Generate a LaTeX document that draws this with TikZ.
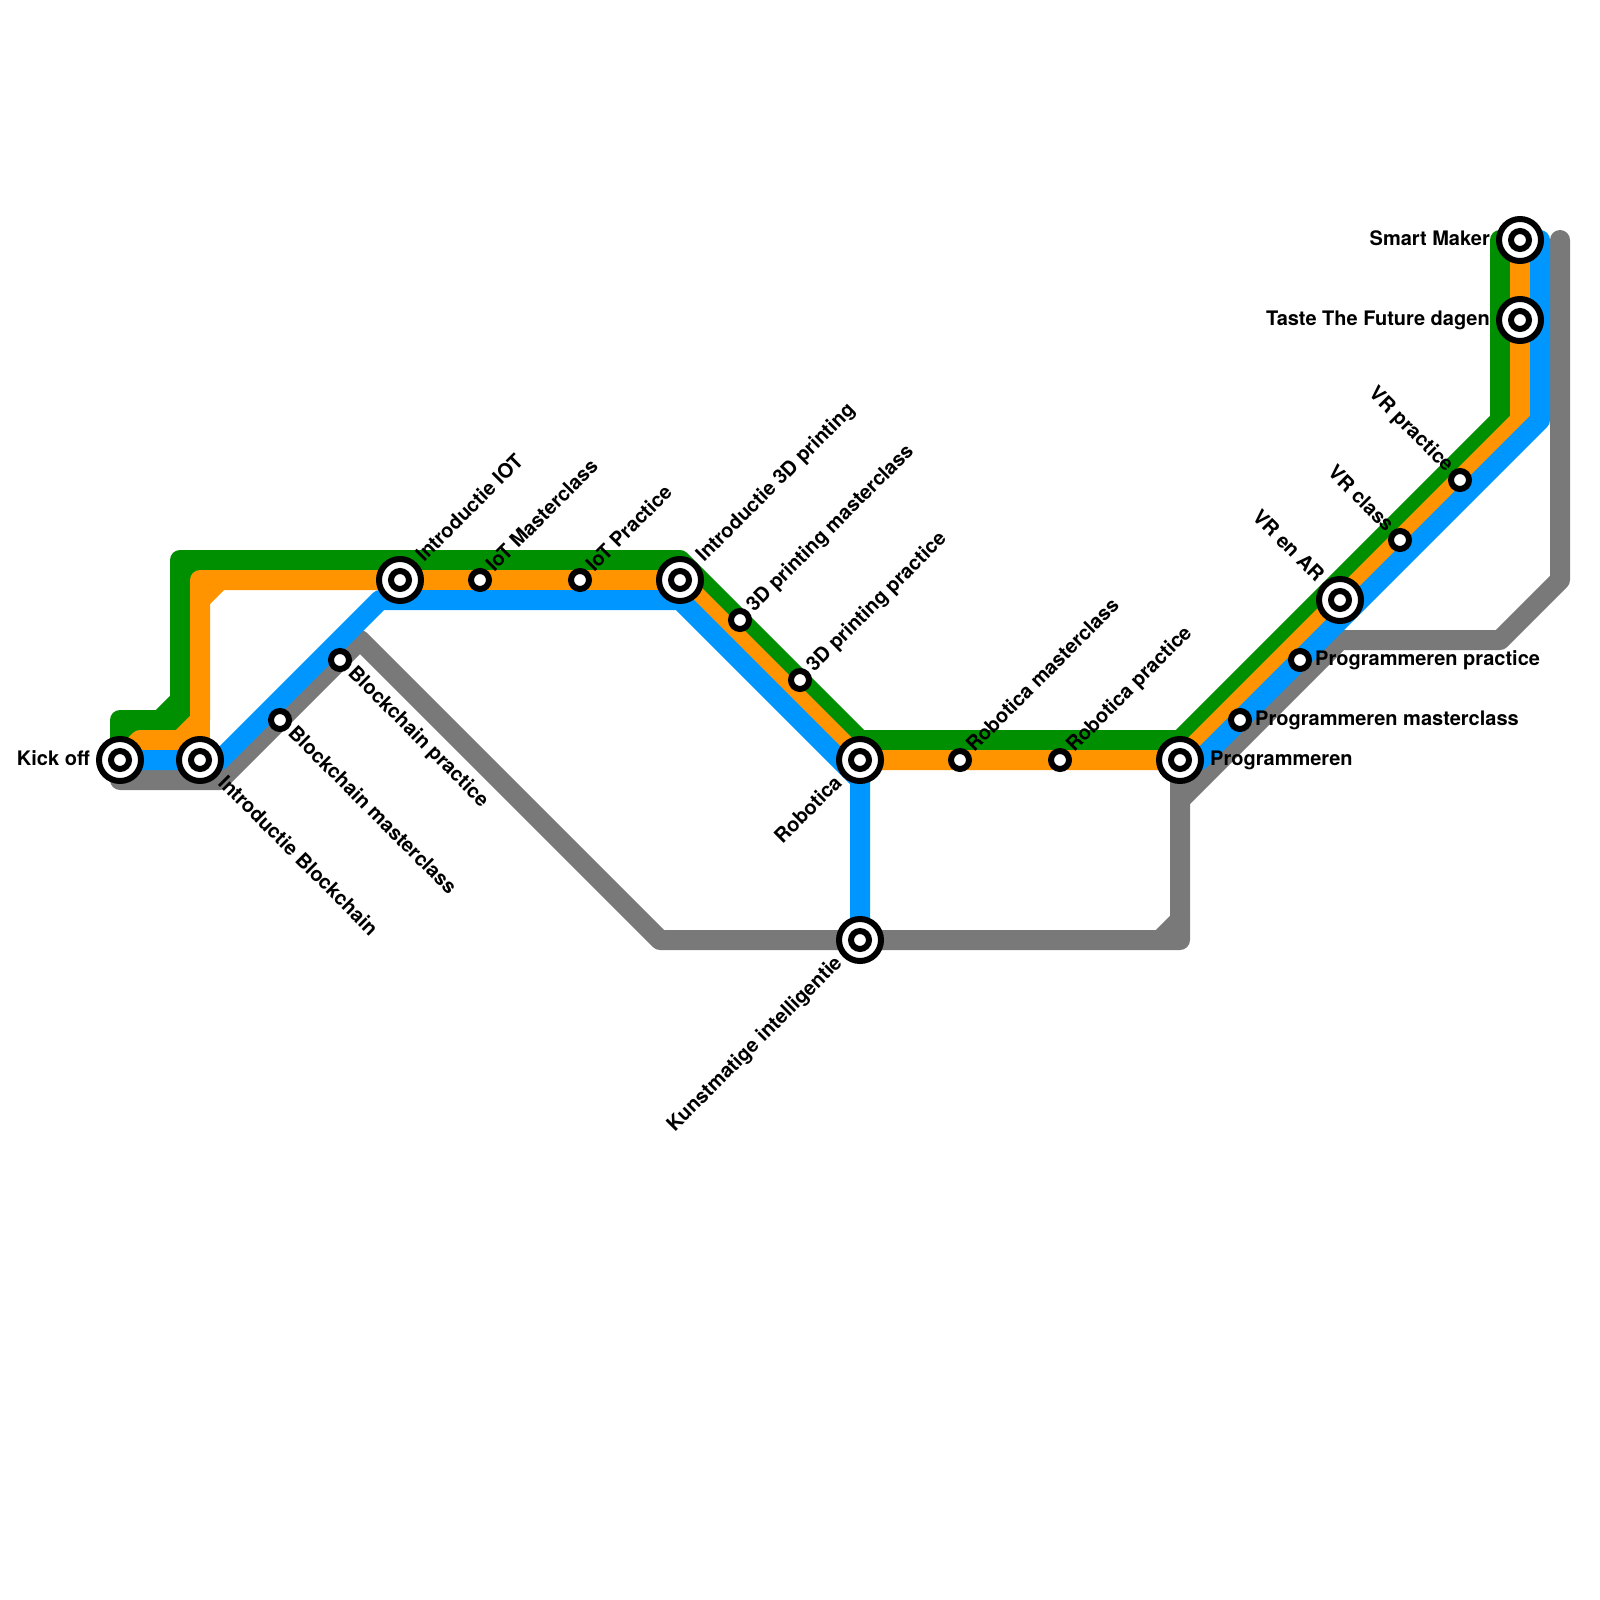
\documentclass[tikz,border=0pt]{standalone}
\usepackage{fontspec}
\setmainfont{TeX Gyre Heros}
\usetikzlibrary{backgrounds}
\definecolor{Clover}{HTML}{008F00}
\definecolor{Tangerine}{HTML}{FF9300}
\definecolor{Aqua}{HTML}{0096FF}
\definecolor{Steel}{HTML}{797979}
\tikzset{
  metro/.style={line width=20pt,line cap=round,line join=round},
  stopbase/.style={circle,draw=black,fill=white,inner sep=0pt,outer sep=0pt,line width=6pt},
  smallstop/.style={stopbase,minimum size=18pt},
  bigstop/.style={stopbase,minimum size=42pt,
    path picture={\draw[line width=6pt,fill=white]
      (path picture bounding box.center) circle (9pt);}},
  lbl/.style={font=\fontsize{20}{24}\bfseries\selectfont,inner sep=0pt,text=black},
  toright/.style={lbl,anchor=base west,xshift=#1,yshift=-5pt},
  toleft/.style={lbl,anchor=base east,xshift=-#1,yshift=-5pt},
  tone/.style={lbl,rotate=45,anchor=base west,xshift=#1,yshift=-5pt},
  tose/.style={lbl,rotate=-45,anchor=base west,xshift=#1,yshift=-5pt},
  tosw/.style={lbl,rotate=45,anchor=base east,xshift=-#1,yshift=-5pt},
  tonw/.style={lbl,rotate=-45,anchor=base east,xshift=-#1,yshift=-5pt},
}
\begin{document}
\begin{tikzpicture}[x=1pt,y=-1pt]
  \useasboundingbox (0,0) rectangle (1600,1600);

  % stations
  \node[bigstop] (kickoff) at (120,760) {};
  \node[bigstop] (blockintro) at (200,760) {};
  \node[smallstop] (blockmaster) at (280,720) {};
  \node[smallstop] (blockpractice) at (340,660) {};
  \node[bigstop] (iotintro) at (400,580) {};
  \node[smallstop] (iotmaster) at (480,580) {};
  \node[smallstop] (iotpractice) at (580,580) {};
  \node[bigstop] (printintro) at (680,580) {};
  \node[smallstop] (printmaster) at (740,620) {};
  \node[smallstop] (printpractice) at (800,680) {};
  \node[bigstop] (robot) at (860,760) {};
  \node[smallstop] (robotmaster) at (960,760) {};
  \node[smallstop] (robotpractice) at (1060,760) {};
  \node[bigstop] (prog) at (1180,760) {};
  \node[smallstop] (progmaster) at (1240,720) {};
  \node[smallstop] (progpractice) at (1300,660) {};
  \node[bigstop] (vrintro) at (1340,600) {};
  \node[smallstop] (vrclass) at (1400,540) {};
  \node[smallstop] (vrpractice) at (1460,480) {};
  \node[bigstop] (taste) at (1520,320) {};
  \node[bigstop] (maker) at (1520,240) {};
  \node[bigstop] (ai) at (860,940) {};

  % labels
  \node[toleft=30pt] (lkickoff) at (kickoff) {Kick off};
  \node[tose=29pt] (lblockintro) at (blockintro) {Introductie Blockchain};
  \node[tose=15pt] (lblockmaster) at (blockmaster) {Blockchain masterclass};
  \node[tose=15pt] (lblockpractice) at (blockpractice) {Blockchain practice};
  \node[tone=29pt] (liotintro) at (iotintro) {Introductie IOT};
  \node[tone=15pt] (liotmaster) at (iotmaster) {IoT Masterclass};
  \node[tone=15pt] (liotpractice) at (iotpractice) {IoT Practice};
  \node[tone=29pt] (lprintintro) at (printintro) {Introductie 3D printing};
  \node[tone=15pt] (lprintmaster) at (printmaster) {3D printing masterclass};
  \node[tone=15pt] (lprintpractice) at (printpractice) {3D printing practice};
  \node[tosw=29pt] (lrobot) at (robot) {Robotica};
  \node[tone=15pt] (lrobotmaster) at (robotmaster) {Robotica masterclass};
  \node[tone=15pt] (lrobotpractice) at (robotpractice) {Robotica practice};
  \node[toright=30pt] (lprog) at (prog) {Programmeren};
  \node[toright=15pt] (lprogmaster) at (progmaster) {Programmeren masterclass};
  \node[toright=15pt] (lprogpractice) at (progpractice) {Programmeren practice};
  \node[tonw=29pt] (lvrintro) at (vrintro) {VR en AR};
  \node[tonw=15pt] (lvrclass) at (vrclass) {VR class};
  \node[tonw=15pt] (lvrpractice) at (vrpractice) {VR practice};
  \node[toleft=30pt] (ltaste) at (taste) {Taste The Future dagen};
  \node[toleft=30pt] (lmaker) at (maker) {Smart Maker};
  \node[tosw=29pt] (lai) at (ai) {Kunstmatige intelligentie};

  % bends of the lines
  \foreach \n/\p in {
      g1/{120,720},g2/{160,720},g3/{180,700},g4/{180,560},g5/{680,560},
      g6/{860,740},g7/{1180,740},g8/{1500,420},g9/{1500,240},
      ga/{180,580},gb/{200,580},gc/{120,740},gd/{160,740},ge/{180,720},
      o1/{140,740},o2/{180,740},o3/{200,720},o4/{200,580},o5/{680,580},
      o6/{860,760},o7/{1180,760},o8/{1520,420},o9/{1520,240},
      oa/{200,600},ob/{220,580},
      b1/{220,760},b2/{380,600},b3/{680,600},b4/{860,780},
      b5/{1200,760},b6/{1540,420},b7/{1540,240},
      s1/{120,780},s2/{220,780},s3/{360,640},s4/{660,940},s5/{1180,940},
      s6/{1180,800},s7/{1340,640},s8/{1500,640},s9/{1560,580},s10/{1560,240},
      sa/{1160,940},sb/{1180,920}}
    \coordinate (\n) at (\p);

  \begin{scope}[on background layer]
    \draw[metro,Steel] (kickoff.center) -- (s1) -- (s2) -- (s3) -- (s4) -- (s5)
      -- (prog.center);
    \draw[metro,Steel] (sa) -- (sb);
    \draw[metro,Steel] (s6) -- (s7) -- (s8) -- (s9) -- (s10);
    \draw[metro,Clover] (kickoff.center) -- (g1) -- (g2) -- (g3) -- (g4) -- (g5)
      -- (g6) -- (g7) -- (g8) -- (g9);
    \draw[metro,Clover] (ga) -- (gb);
    \draw[metro,Clover] (gc) -- (gd) -- (ge) -- (g3);
    \draw[metro,Tangerine] (kickoff.center) -- (o1) -- (o2) -- (o3) -- (o4) -- (o5)
      -- (o6) -- (o7) -- (o8) -- (o9);
    \draw[metro,Tangerine] (oa) -- (ob);
    \draw[metro,Tangerine] (o3) -- (blockintro.center);
    \draw[metro,Aqua] (kickoff.center) -- (b1) -- (b2) -- (b3) -- (b4) -- (ai.center);
    \draw[metro,Aqua] (prog.center) -- (b5) -- (b6) -- (b7);
  \end{scope}
\end{tikzpicture}
\end{document}
